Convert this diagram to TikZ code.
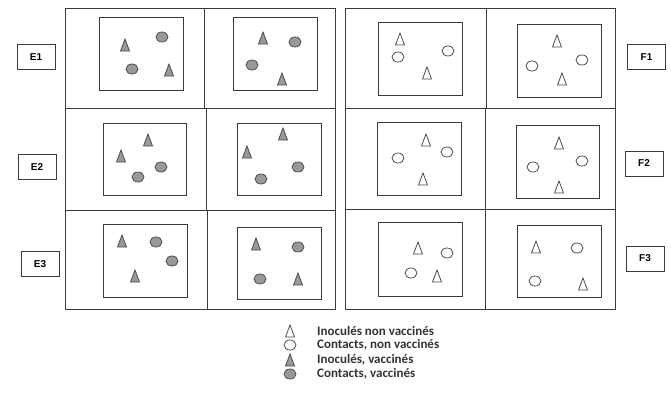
\documentclass[tikz,border=0pt]{standalone}
\usepackage{fontspec}
\setmainfont{Liberation Sans}
\newfontfamily\legfont{Carlito}
\definecolor{symgray}{HTML}{999999}
\definecolor{linecol}{HTML}{3A3A3A}
\begin{document}
\begin{tikzpicture}[x=1pt,y=-1pt,
  outer/.style={draw=linecol,line width=0.9pt},
  inner/.style={draw=linecol,line width=1pt},
  lab/.style={draw=linecol,line width=0.9pt,minimum width=38pt,minimum height=25pt,inner sep=0pt,font=\bfseries\fontsize{10}{11}\selectfont},
  symline/.style={draw=black!70,line width=0.8pt},
  gt/.pic={\draw[symline,fill=symgray] (-4.5,6) -- (4.5,6) -- (0,-6) -- cycle;},
  wt/.pic={\draw[symline,fill=white] (-4.5,6) -- (4.5,6) -- (0,-6) -- cycle;},
  gc/.pic={\draw[symline,fill=symgray] (0,0) ellipse [x radius=6,y radius=5];},
  wc/.pic={\draw[symline,fill=white] (0,0) ellipse [x radius=6,y radius=5];},
  leg/.style={anchor=west,inner sep=0pt,font=\legfont\bfseries\fontsize{13}{14}\selectfont,text=black!80}
]
\useasboundingbox (0,0) rectangle (671,407);
% left block
\draw[outer] (65.5,8) rectangle (335,309);
\draw[outer] (65.5,108) -- (335,108);
\draw[outer] (65.5,210) -- (335,210);
\draw[outer] (204,8) -- (204,108);
\draw[outer] (206,108) -- (206,210);
\draw[outer] (207,210) -- (207,309);
% right block
\draw[outer] (345,8) rectangle (615,309);
\draw[outer] (345,108) -- (615,108);
\draw[outer] (345,209) -- (615,209);
\draw[outer] (486,8) -- (486,108);
\draw[outer] (485,108) -- (485,209);
\draw[outer] (485,209) -- (485,309);
% inner boxes E
\draw[inner] (99,17) rectangle (183,90);
\draw[inner] (233,17) rectangle (317,90);
\draw[inner] (103,123) rectangle (186,195);
\draw[inner] (237,123) rectangle (321,195);
\draw[inner] (103,224) rectangle (187,297);
\draw[inner] (237,227) rectangle (321,299);
% inner boxes F
\draw[inner] (378,22) rectangle (462,95);
\draw[inner] (517,24) rectangle (601,97);
\draw[inner] (377,122) rectangle (461,195);
\draw[inner] (516,125) rectangle (599,198);
\draw[inner] (378,222) rectangle (462,296);
\draw[inner] (517,225) rectangle (601,297);
% labels
\node[lab] (E1) at (36,57) {E1};
\node[lab] (E2) at (37,167) {E2};
\node[lab] (E3) at (40,264) {E3};
\node[lab] (F1) at (646.5,57) {F1};
\node[lab] (F2) at (644,163.5) {F2};
\node[lab] (F3) at (645,258.5) {F3};
% E1
\pic at (125,45) {gt}; \pic at (162,37) {gc}; \pic at (132,69) {gc}; \pic at (169,70) {gt};
\pic at (263,38) {gt}; \pic at (295,42) {gc}; \pic at (252,65) {gc}; \pic at (282,79) {gt};
% E2
\pic at (148,140) {gt}; \pic at (121,156) {gt}; \pic at (161,167) {gc}; \pic at (138,177) {gc};
\pic at (283,134) {gt}; \pic at (247,152) {gt}; \pic at (298,167) {gc}; \pic at (261,179) {gc};
% E3
\pic at (122,241) {gt}; \pic at (156,242) {gc}; \pic at (172,261) {gc}; \pic at (135,276) {gt};
\pic at (256,244) {gt}; \pic at (298,247) {gc}; \pic at (260,279) {gc}; \pic at (298,279) {gt};
% F1
\pic at (400,39) {wt}; \pic at (398,57) {wc}; \pic at (448,51) {wc}; \pic at (427,73) {wt};
\pic at (557,41) {wt}; \pic at (582,60) {wc}; \pic at (532,66) {wc}; \pic at (562,79) {wt};
% F2
\pic at (426,140) {wt}; \pic at (447,152) {wc}; \pic at (398,158) {wc}; \pic at (423,179) {wt};
\pic at (559,143) {wt}; \pic at (582,161) {wc}; \pic at (533,167) {wc}; \pic at (559,187) {wt};
% F3
\pic at (418,248) {wt}; \pic at (447,253) {wc}; \pic at (411,273) {wc}; \pic at (437,276) {wt};
\pic at (536,247) {wt}; \pic at (577,248) {wc}; \pic at (535,281) {wc}; \pic at (583,284) {wt};
% legend
\pic at (290,331) {wt};
\pic at (290,345) {wc};
\pic at (290,360) {gt};
\pic at (290,374) {gc};
\node[leg] (l1) at (317,331) {Inoculés non vaccinés};
\node[leg] (l2) at (317,345) {Contacts, non vaccinés};
\node[leg] (l3) at (317,360) {Inoculés, vaccinés};
\node[leg] (l4) at (317,374) {Contacts, vaccinés};
\end{tikzpicture}
\end{document}
